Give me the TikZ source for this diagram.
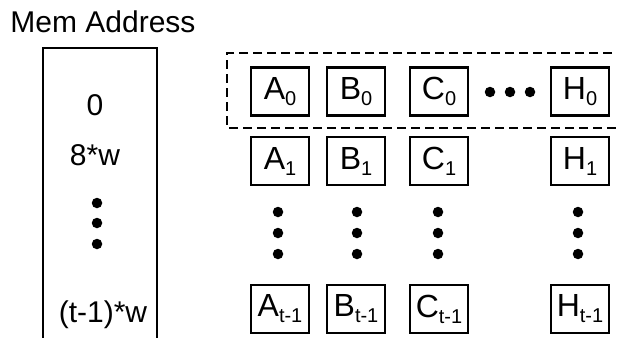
\documentclass[tikz,border=0pt]{standalone}
\usepackage{fontspec}
\setmainfont{Liberation Sans}
% lowered, smaller index after a cell letter
\newcommand\cellsub[1]{\raisebox{-6pt}{\fontsize{20}{20}\selectfont #1}}
\begin{document}
\begin{tikzpicture}[x=1pt,y=-1pt,
  lbl/.style={font=\fontsize{30}{34}\selectfont, inner sep=0pt},
  cell/.style={draw, line width=2.2pt, minimum width=58pt, minimum height=48pt,
    inner sep=0pt, font=\fontsize{32}{36}\selectfont},
  vdot/.style={fill, circle, inner sep=0pt, minimum size=10.5pt}]
\useasboundingbox (0,0) rectangle (617,337);
\clip (0,0) rectangle (617,337);

% address column
\node[lbl, anchor=base] (title) at (103,33) {Mem Address};
\draw[line width=1.4pt] (43,345) -- (43,48) -- (157,48) -- (157,345);
\node[lbl, anchor=base] (a0) at (95,115) {0};
\node[lbl, anchor=base] (a1) at (95,165) {8*w};
\node[vdot] (ad1) at (97,203) {};
\node[vdot] (ad2) at (97,223) {};
\node[vdot] (ad3) at (97,244) {};
\node[lbl, anchor=base] (at) at (103,322) {(t-1)*w};

% first row group
\draw[dashed, line width=1.4pt, dash pattern=on 9pt off 5pt]
  (640,53) -- (227,53) -- (227,128) -- (640,128);

% cells
\foreach \c/\x in {A/280, B/356, C/439, H/580}{
  \node[cell] (\c0) at (\x,91.5) {\c\cellsub{0}};
  \node[cell] (\c1) at (\x,161) {\c\cellsub{1}};
  \node[cell] (\c t) at (\x,309) {\c\cellsub{t-1}};
}

% ellipses between columns C and H in the first row
\node[vdot] (h1) at (490,92) {};
\node[vdot] (h2) at (510,92) {};
\node[vdot] (h3) at (530,92) {};

% ellipses down each column
\foreach \c/\x in {A/278, B/357, C/438, H/578}{
  \node[vdot] (\c d1) at (\x,212) {};
  \node[vdot] (\c d2) at (\x,233) {};
  \node[vdot] (\c d3) at (\x,254) {};
}
\end{tikzpicture}
\end{document}
